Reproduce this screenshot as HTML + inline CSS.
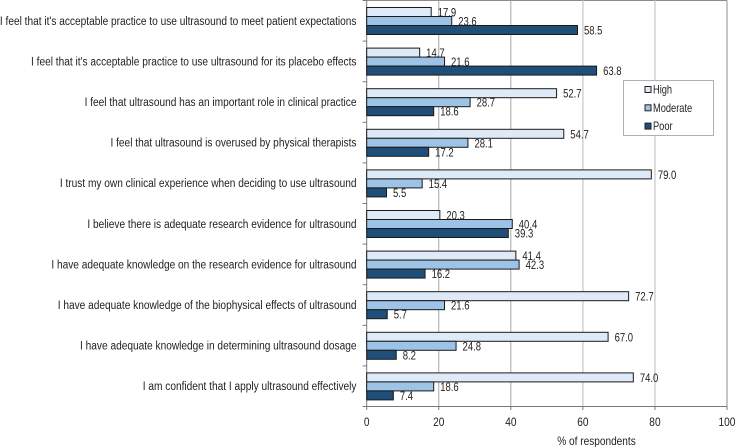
<!DOCTYPE html>
<html>
<head>
<meta charset="utf-8">
<style>
html,body{margin:0;padding:0;background:#fff;}
svg{display:block;font-family:"Liberation Sans",sans-serif;fill:#222;}
text{font-size:11.6px;}
</style>
</head>
<body>
<svg id="chart" width="736" height="447" viewBox="0 0 736 447" xmlns="http://www.w3.org/2000/svg"></svg>
<script>
const categories = [
  "I feel that it's acceptable practice to use ultrasound to meet patient expectations",
  "I feel that it's acceptable practice to use ultrasound for its placebo effects",
  "I feel that ultrasound has an important role in clinical practice",
  "I feel that ultrasound is overused by physical therapists",
  "I trust my own clinical experience when deciding to use ultrasound",
  "I believe there is adequate research evidence for ultrasound",
  "I have adequate knowledge on the research evidence for ultrasound",
  "I have adequate knowledge of the biophysical effects of ultrasound",
  "I have adequate knowledge in determining ultrasound dosage",
  "I am confident that I apply ultrasound effectively"
];
const highValues = [17.9, 14.7, 52.7, 54.7, 79.0, 20.3, 41.4, 72.7, 67.0, 74.0];
const moderateValues = [23.6, 21.6, 28.7, 28.1, 15.4, 40.4, 42.3, 21.6, 24.8, 18.6];
const poorValues = [58.5, 63.8, 18.6, 17.2, 5.5, 39.3, 16.2, 5.7, 8.2, 7.4];
const xTicks = [0, 20, 40, 60, 80, 100];
const seriesNames = ["High", "Moderate", "Poor"];

const svg = document.getElementById('chart');
const NS = 'http://www.w3.org/2000/svg';
const plotLeft = 366.7, plotRight = 727, plotTop = 0.5, plotBottom = 406.5;
const groupStep = (plotBottom - plotTop) / categories.length;
const barH = 9;
const narrow = 0.875;
const xScale = v => plotLeft + (plotRight - plotLeft) * v / 100;
const yGroup = i => plotTop + groupStep * i;

function make(tag, attrs, text) {
  const el = document.createElementNS(NS, tag);
  for (const k in attrs) el.setAttribute(k, attrs[k]);
  if (text !== undefined) el.textContent = text;
  svg.appendChild(el);
  return el;
}
function label(x, y, anchor, text, sx) {
  return make('text', {
    transform: 'translate(' + x + ' ' + y + ') scale(' + sx + ' 1)',
    'text-anchor': anchor
  }, text);
}

/* plot frame top and right */
const frameTop = make('line', {x1: plotLeft, x2: plotRight, y1: plotTop, y2: plotTop, stroke: '#8c8c8c', 'stroke-width': 1});


const frameRight = make('line', {x1: plotRight, x2: plotRight, y1: plotTop, y2: plotBottom, stroke: '#8c8c8c', 'stroke-width': 1});



/* gridlines and x tick labels */
xTicks.forEach(t => {
  const x = xScale(t);
  if (t > 0 && t < 100) {
    const light = t >= 60;
    const grid = make('line', {x1: x, x2: x, y1: plotTop, y2: plotBottom, stroke: light ? '#d2d2d2' : '#a8a8a8', 'stroke-width': light ? 1.5 : 1});
    
    
  }
  const tick = make('line', {x1: x, x2: x, y1: plotBottom, y2: plotBottom + 3.5, stroke: '#777', 'stroke-width': 1});
  
  
  const tickLabel = label(x, 426, 'middle', String(t), narrow);
  
  
});

/* y ticks */
for (let i = 0; i <= categories.length; i++) {
  const yt = make('line', {x1: plotLeft - 4, x2: plotLeft, y1: yGroup(i), y2: yGroup(i), stroke: '#777', 'stroke-width': 1});
  
  
}

/* axes */
const yAxis = make('line', {x1: plotLeft, x2: plotLeft, y1: plotTop, y2: plotBottom, stroke: '#777', 'stroke-width': 1});


const xAxis = make('line', {x1: plotLeft - 4, x2: plotRight, y1: plotBottom, y2: plotBottom, stroke: '#777', 'stroke-width': 1});



/* bars */
const seriesValues = [highValues, moderateValues, poorValues];
const seriesFills = ['#deeaf7', '#9dc3e6', '#1f4e79'];
const seriesKeys = ['high', 'moderate', 'poor'];
categories.forEach((cat, i) => {
  const catLabel = label(356.5, yGroup(i) + groupStep / 2 + 4, 'end', cat, narrow);
  
  
  seriesValues.forEach((vals, s) => {
    const top = yGroup(i) + 7 + s * barH;
    const bar = make('rect', {
      x: plotLeft, y: top,
      width: xScale(vals[i]) - plotLeft, height: barH,
      fill: seriesFills[s], stroke: '#1a1a1a', 'stroke-width': 1
    });
    
    
    const val = label(xScale(vals[i]) + 6.5, top + barH / 2 + 4.5, 'start', vals[i].toFixed(1), 0.82);
    
    
  });
});

/* x axis title */
const xTitle = label(596.5, 445, 'middle', '% of respondents', 0.87);



/* legend */
const legendBox = make('rect', {x: 623.5, y: 80.5, width: 90, height: 55, fill: '#fff', stroke: '#b0b0b0', 'stroke-width': 1});


seriesNames.forEach((name, s) => {
  const cy = 89.5 + s * 18.3;
  const swatch = make('rect', {x: 645, y: cy - 3, width: 6, height: 6, fill: seriesFills[s], stroke: '#222', 'stroke-width': 1});
  
  
  const lt = label(653, cy + 4, 'start', name, 0.8);
  
  
});
</script>
</body>
</html>
